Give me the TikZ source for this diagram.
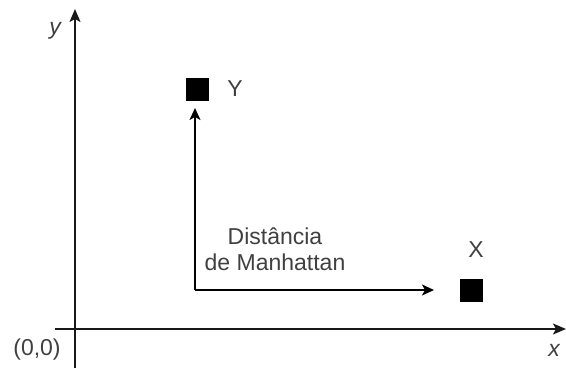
\documentclass[tikz,border=0pt]{standalone}
\usepackage{fontspec}
\setmainfont{Liberation Sans}
\usepackage{tikz}
\usetikzlibrary{positioning,arrows.meta,calc}
\definecolor{TextGray}{RGB}{64,64,64}
\definecolor{LineGray}{RGB}{25,25,25}

\begin{document}
\begin{tikzpicture}[x=1pt,y=-1pt,
		axis/.style={draw=LineGray,line width=1.6pt,-{Stealth[length=13pt,width=11pt,inset=3pt]}},
		route/.style={draw=black,line width=1.5pt,-{Stealth[length=12pt,width=11pt,inset=3pt]}},
		point/.style={rectangle,fill=black,minimum width=23pt,minimum height=23pt,inner sep=0pt},
		lbl/.style={text=TextGray,font=\fontsize{23}{26}\selectfont,inner sep=0pt}]
			\useasboundingbox (0,0) rectangle (566,368);
			% axes
			\coordinate (O) at (75,329);
			\coordinate (xs) at (55,329);
			\coordinate (xe) at (566,329);
			\coordinate (ys) at (75,368);
			\coordinate (ye) at (75,9);
			\draw[axis] (xs) -- (xe);
			\draw[axis] (ys) -- (ye);
			\node[lbl] (ylab) at (55,31) {\itshape y};
			\node[lbl] (xlab) at (554,350) {\itshape x};
			\node[lbl] (orig) at (37,350) {(0,0)};
			% the two points
			\node[point] (Ysq) at (197.5,89) {};
			\node[point] (Xsq) at (471.5,290) {};
			\node[lbl] (Ylab) at (235,89) {Y};
			\node[lbl] (Xlab) at (476,250) {X};
			% path between them
			\coordinate (corner) at (195,290);
			\coordinate (uptip) at (195,108);
			\coordinate (righttip) at (434,290);
			\draw[route] (corner) -- (uptip);
			\draw[route] (corner) -- (righttip);
			\node[lbl,align=center] (dist) at (275,249) {Distância\\de Manhattan};
		\end{tikzpicture}
\end{document}
